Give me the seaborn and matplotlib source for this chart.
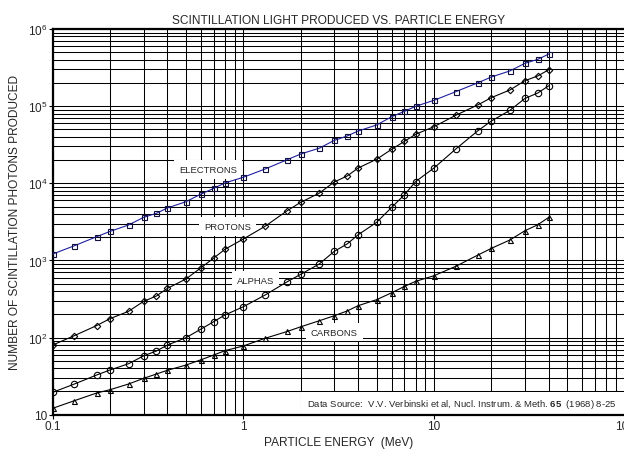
import matplotlib
matplotlib.use("Agg")
import matplotlib.pyplot as plt
import seaborn as sns
import numpy as np
import pandas as pd
from matplotlib.ticker import LogLocator, FixedLocator, FixedFormatter, NullFormatter

energy = [0.1, 0.13, 0.17, 0.2, 0.25, 0.3, 0.35, 0.4, 0.5, 0.6, 0.7, 0.8, 1, 1.3, 1.7, 2,
          2.5, 3, 3.5, 4, 5, 6, 7, 8, 10, 13, 17, 20, 25, 30, 35, 40]
electrons = [1210, 1550, 2030, 2380, 2880, 3620, 4080, 4790, 5770, 7260, 8610, 10090, 11970,
             15320, 20230, 23970, 28500, 36000, 41000, 47600, 57000, 73000, 85700, 99500,
             119000, 154000, 201000, 239000, 286000, 359000, 404000, 474000]
protons = [80, 106, 143, 176, 219, 295, 346, 435, 574, 805, 1075, 1393, 1895, 2770, 4420, 5670,
           7450, 10400, 12420, 15770, 20500, 27600, 35000, 43100, 54200, 76100, 104000, 129000,
           162000, 214000, 246000, 297000]
alphas = [19.5, 25, 32.7, 38, 45.8, 58, 67, 80, 99.6, 129, 161, 196, 251, 356, 530, 661, 899,
          1313, 1634, 2150, 3120, 4880, 7110, 10500, 15800, 27800, 48100, 64200, 88300, 126000,
          148000, 184000]
carbons = [12.1, 15.2, 19.1, 21.1, 25, 29.6, 33.7, 37.7, 44, 51.6, 59.4, 67.6, 77.8, 97.8, 120,
           138, 165, 192, 221, 259, 310, 381, 461, 535, 634, 838, 1175, 1435, 1840, 2430, 2900, 3620]

series_names = ["ELECTRONS", "PROTONS", "ALPHAS", "CARBONS"]
x_ticks = [0.1, 1, 10, 100]
x_ticklabels = ["0.1", "1", "10", "100"]
y_ticks = [10, 100, 1000, 10000, 100000, 1000000]
y_ticklabels = ["10", r"$\mathregular{10^2}$", r"$\mathregular{10^3}$", r"$\mathregular{10^4}$",
                r"$\mathregular{10^5}$", r"$\mathregular{10^6}$"]

sns.set_theme(style="white")
plt.rcParams["font.family"] = ["Liberation Sans", "DejaVu Sans"]
plt.rcParams["mathtext.fontset"] = "custom"
plt.rcParams["mathtext.rm"] = "Liberation Sans"
plt.rcParams["mathtext.bf"] = "Liberation Sans:bold"
plt.rcParams["mathtext.default"] = "regular"

fig = plt.figure(figsize=(6.24, 4.52), dpi=100)
ax = fig.add_axes([52.7 / 624, 36.3 / 452, 572.0 / 624, 385.7 / 452])

styles = {
    "ELECTRONS": dict(marker="s", ms=3.6, color="#1f1fa0", mec="#101040"),
    "PROTONS": dict(marker="D", ms=3.3, color="black", mec="black"),
    "ALPHAS": dict(marker="o", ms=4.6, color="black", mec="black"),
    "CARBONS": dict(marker="^", ms=3.6, color="black", mec="black"),
}
values = {"ELECTRONS": electrons, "PROTONS": protons, "ALPHAS": alphas, "CARBONS": carbons}

for name in series_names:
    st = styles[name]
    sns.lineplot(x=energy, y=values[name], ax=ax, color=st["color"], lw=0.8,
                 marker=st["marker"], markersize=st["ms"], markerfacecolor="none",
                 markeredgecolor=st["mec"], markeredgewidth=0.8, zorder=3)

ax.set_xscale("log")
ax.set_yscale("log")
ax.set_xlim(0.1, 100)
ax.set_ylim(10, 1e6)

ax.xaxis.set_major_locator(FixedLocator(x_ticks))
ax.xaxis.set_major_formatter(FixedFormatter(x_ticklabels))
ax.yaxis.set_major_locator(FixedLocator(y_ticks))
ax.yaxis.set_major_formatter(FixedFormatter(y_ticklabels))
ax.xaxis.set_minor_locator(LogLocator(base=10, subs=np.arange(2, 10), numticks=20))
ax.yaxis.set_minor_locator(LogLocator(base=10, subs=np.arange(2, 10), numticks=20))
ax.xaxis.set_minor_formatter(NullFormatter())
ax.yaxis.set_minor_formatter(NullFormatter())

ax.set_axisbelow(True)
ax.grid(which="both", color="black", lw=0.75)
ax.tick_params(axis="both", which="major", labelsize=8.5, length=3, width=0.8, color="black",
               direction="out", pad=1, left=True, bottom=True)
ax.tick_params(axis="both", which="minor", length=0)

for side in ["left", "bottom", "top"]:
    ax.spines[side].set_color("black")
    ax.spines[side].set_linewidth(1.6)
ax.spines["right"].set_visible(False)

ax.set_title("SCINTILLATION LIGHT PRODUCED VS. PARTICLE ENERGY", fontsize=8.6, pad=4)
ax.set_xlabel("PARTICLE ENERGY  (MeV)", fontsize=8.6, labelpad=3)
ax.set_ylabel("NUMBER OF SCINTILLATION PHOTONS PRODUCED", fontsize=8.6, labelpad=5)

box = dict(facecolor="white", edgecolor="none", pad=3.5)
label_pos = {"ELECTRONS": (0.652, 1.5e4), "PROTONS": (0.827, 2.77e3),
             "ALPHAS": (1.154, 5.46e2), "CARBONS": (3.0, 1.18e2)}
for name in series_names:
    ax.text(*label_pos[name], name, fontsize=6.8, ha="center", va="center", bbox=box, zorder=1.5)

ax.text(0.985, 0.028, r"Data Source:  V.V. Verbinski et al, Nucl. Instrum. & Meth. $\mathbf{65}$  (1968) 8-25",
        transform=ax.transAxes, fontsize=6.8, ha="right", va="center",
        bbox=dict(facecolor="white", edgecolor="none", pad=4), zorder=1.5)

fig.savefig("out.png", dpi=100)
